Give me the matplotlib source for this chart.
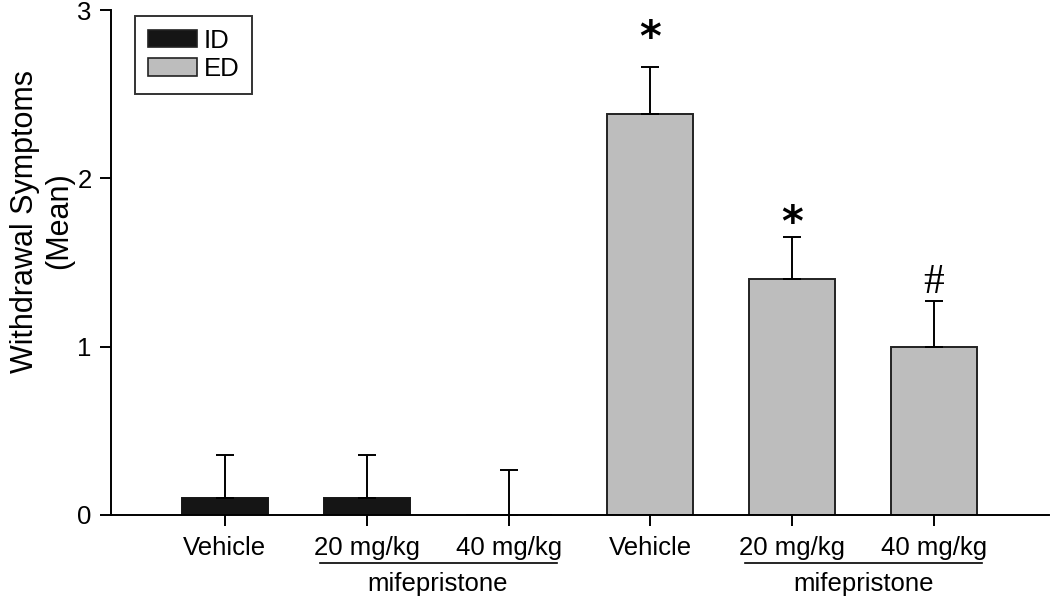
import matplotlib
matplotlib.use("Agg")
import matplotlib.pyplot as plt
from matplotlib.patches import Patch

plt.rcParams['font.family'] = ['Liberation Sans', 'DejaVu Sans']

# ---- data ----
groups = ["ID", "ED"]
doses = ["Vehicle", "20 mg/kg", "40 mg/kg"]
id_means = [0.10, 0.10, 0.00]
id_sem = [0.255, 0.255, 0.27]
ed_means = [2.38, 1.40, 1.00]
ed_sem = [0.28, 0.25, 0.27]
ed_marks = ["*", "*", "#"]
y_ticks = [0, 1, 2, 3]
drug_label = "mifepristone"

id_color = "#151515"
ed_color = "#bdbdbd"
fs = 18.5

fig = plt.figure(figsize=(10.5, 5.98), dpi=100)
ax = fig.add_axes([111/1050, 83/598, (1049-111)/1050, 505/598])

pos_id = [0, 1, 2]
pos_ed = [3, 4, 5]
w = 0.606
lw = 1.4
ekw = dict(elinewidth=1.4, capthick=1.4, ecolor="black")

ax.bar(pos_id, id_means, width=w, color=id_color, edgecolor=id_color, linewidth=lw,
       yerr=[[0]*3, id_sem], capsize=6.5, error_kw=ekw, label=groups[0], zorder=2)
ax.bar(pos_ed, ed_means, width=w, color=ed_color, edgecolor="#222222", linewidth=lw,
       yerr=[[0]*3, ed_sem], capsize=6.5, error_kw=ekw, label=groups[1], zorder=2)

mark_offsets = [0.17, 0.08, 0.11]
for i, (p, mk, off) in enumerate(zip(pos_ed, ed_marks, mark_offsets)):
    top = ed_means[i] + ed_sem[i]
    if mk == "*":
        ax.text(p, top + off, mk, ha="center", va="center", fontsize=30,
                fontweight="bold", family="DejaVu Sans")
    else:
        ax.text(p, top + off, mk, ha="center", va="center", fontsize=30,
                family="Liberation Serif")

ax.set_xlim(-0.803, 5.81)
ax.set_ylim(0, 3)
ax.set_yticks(y_ticks)
ax.set_yticklabels([str(t) for t in y_ticks], fontsize=fs)
ax.set_xticks(pos_id + pos_ed)
ax.set_xticklabels(doses + doses, fontsize=fs)
ax.tick_params(axis="both", direction="out", length=8, width=1.4, pad=7)
ax.tick_params(axis="y", pad=6)
for sp in ["top", "right"]:
    ax.spines[sp].set_visible(False)
for sp in ["left", "bottom"]:
    ax.spines[sp].set_linewidth(1.4)

ax.set_ylabel("Withdrawal Symptoms\n(Mean)", fontsize=22, linespacing=1.2)
ax.yaxis.set_label_coords(-0.039, 0.582)

# mifepristone brackets
trans = ax.get_xaxis_transform()
for a, b in [(pos_id[1], pos_id[2]), (pos_ed[1], pos_ed[2])]:
    ax.plot([a - 0.33, b + 0.34], [-0.095, -0.095], color="black", lw=1.2,
            transform=trans, clip_on=False)
    ax.text((a + b) / 2, -0.137, drug_label, ha="center", va="center",
            fontsize=fs, transform=trans)

handles = [Patch(facecolor=id_color, edgecolor="#222222", linewidth=1.2, label=groups[0]),
           Patch(facecolor=ed_color, edgecolor="#222222", linewidth=1.2, label=groups[1])]
leg = ax.legend(handles=handles, loc="upper left", bbox_to_anchor=(24/938, 0.988),
                fontsize=fs, frameon=True, fancybox=False, edgecolor="black",
                handlelength=1.9, handleheight=0.65, handletextpad=0.28,
                labelspacing=0.16, borderpad=0.5, borderaxespad=0)
leg.get_frame().set_linewidth(1.4)

fig.savefig("out.png", dpi=100)
